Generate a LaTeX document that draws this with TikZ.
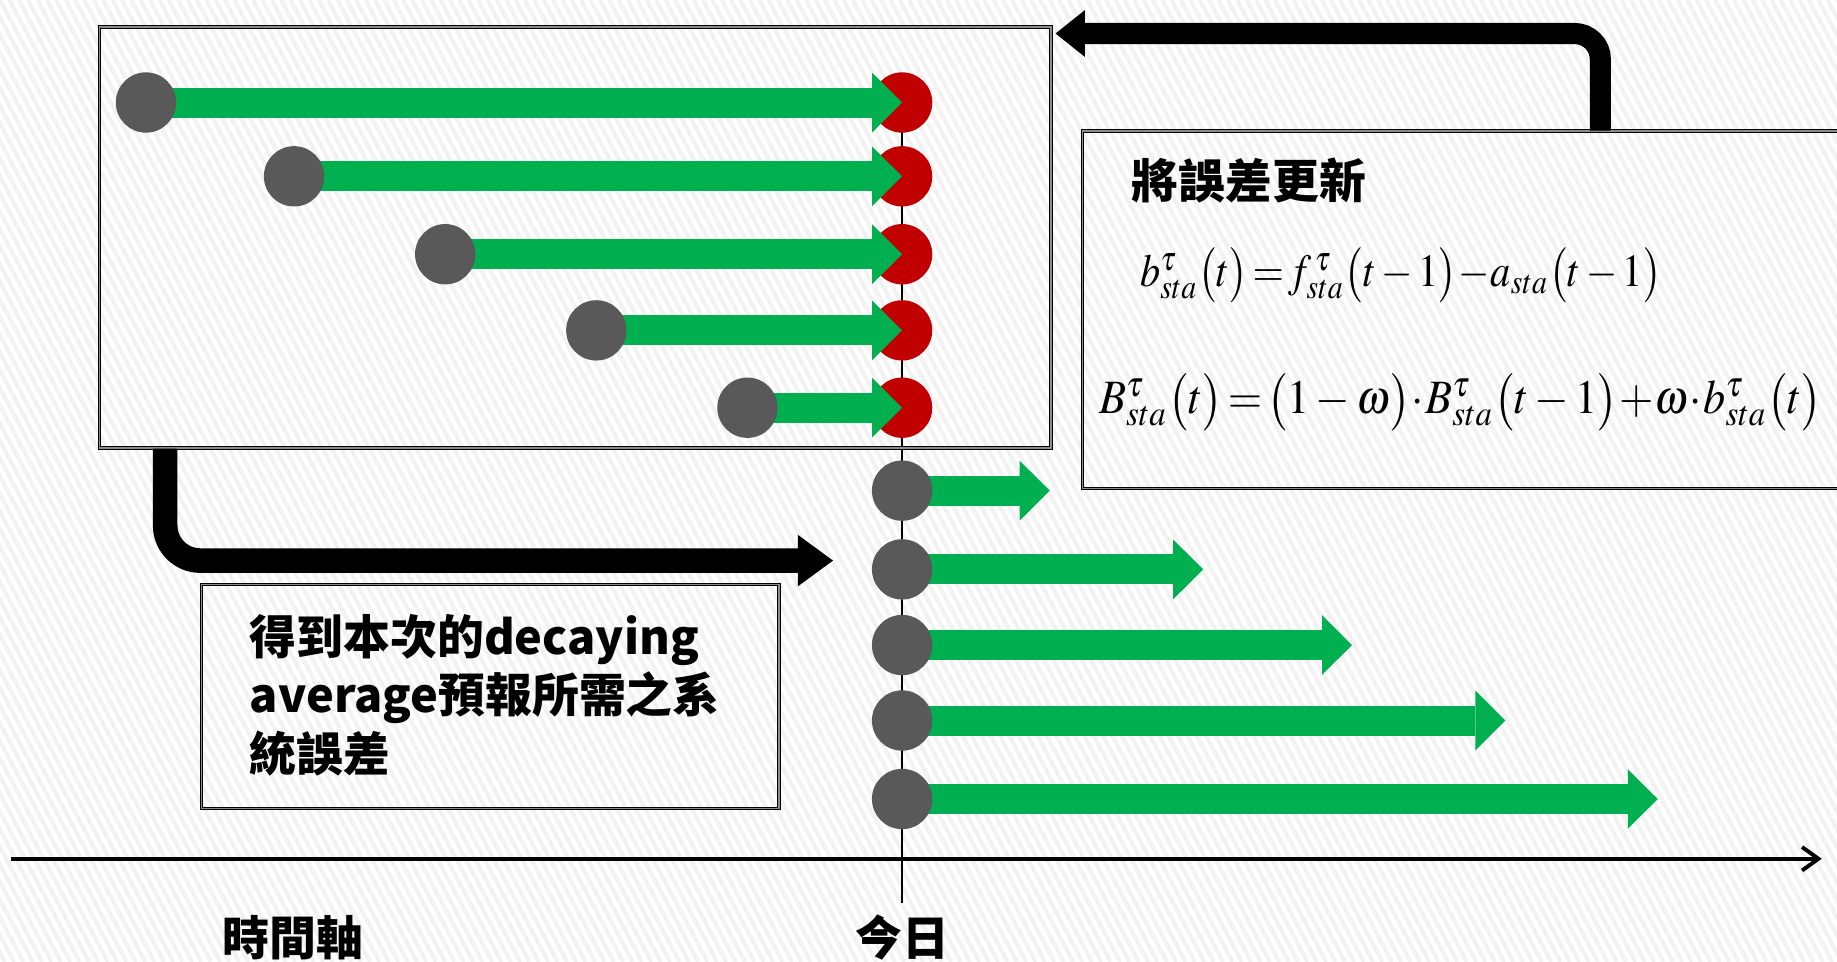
\documentclass[tikz,border=0pt]{standalone}
\usepackage{graphicx}
\usepackage{mathptmx}
\usepackage[no-math]{fontspec}
\newfontfamily\cjk{Noto Sans CJK TC}
\usetikzlibrary{arrows.meta}
\definecolor{grn}{HTML}{00B050}
\definecolor{rd}{HTML}{C00000}
\definecolor{gry}{HTML}{595959}
\pgfdeclarelayer{back}
\pgfdeclarelayer{redl}
\pgfdeclarelayer{greenl}
\pgfsetlayers{back,redl,greenl,main}
\begin{document}
\begin{tikzpicture}[x=1pt,y=-1pt,
  stripe/.style={draw=black!5,line width=3.5pt},
  dbox/.style={draw=black,line width=0.9pt,double=black!45,double distance=1.3pt,inner sep=0pt},
  dot/.style={circle,inner sep=0pt,minimum size=51.5pt},
  gdot/.style={dot,fill=gry},
  rdot/.style={dot,fill=rd},
  garrow/.style={draw=grn,line width=25.6pt,-{Triangle[width=51pt,length=25.6pt,line width=0pt]}},
  cjkt/.style={font=\cjk\bfseries\fontsize{40}{50}\selectfont,inner sep=0pt},
]
\useasboundingbox (0,0) rectangle (1568,821);
\clip (0,0) rectangle (1568,821);
% background stripes
\begin{pgfonlayer}{back}
\begin{scope}
\clip (0,0) rectangle (1568,821);
\foreach \i in {-440,-432,...,1568} \draw[stripe] (\i,0) -- ++(436,821);
\end{scope}
\end{pgfonlayer}
% red end circles
\begin{pgfonlayer}{redl}
\foreach \n/\y in {1/87.5,2/150.5,3/217,4/282,5/348} \node[rdot] (r\n) at (770,\y) {};
\end{pgfonlayer}
% gray start circles (past forecasts)
\foreach \n/\x/\y in {1/124.6/87.5,2/251/150.5,3/380/217,4/509/282,5/638/348}
  \node[gdot] (g\n) at (\x,\y) {};
% gray circles today
\foreach \n/\y/\tx in {6/418.8/896,7/486/1027,8/550.6/1154,9/615/1285,10/682/1415} {
  \node[gdot] (g\n) at (770,\y) {};
  \coordinate (e\n) at (\tx,\y);
}
% green arrows
\begin{pgfonlayer}{greenl}
\foreach \n in {1,...,5} \draw[garrow] (g\n.center) -- (r\n.center);
\foreach \n in {6,...,10} \draw[garrow] (g\n.center) -- (e\n);
\end{pgfonlayer}
% time axis and today line
\coordinate (tb) at (770,771);
\coordinate (ax0) at (9,733);
\coordinate (ax1) at (1555,733);
\begin{pgfonlayer}{back}
\draw[line width=1.5pt] (r1.center) -- (tb);
\draw[line width=3.3pt,-{Straight Barb[length=14pt,width=20pt]}] (ax0) -- (ax1);
\end{pgfonlayer}
% boxes
\node[dbox,minimum width=812pt,minimum height=359.5pt] (box1) at (491,202.75) {};
\node[dbox,minimum width=680pt,minimum height=305pt] (eqbox) at (1264,264.5) {};
\node[dbox,minimum width=493pt,minimum height=191pt] (box3) at (418.5,594.5) {};
% bent arrows
\coordinate (ux) at (1366,0);
\coordinate (ue) at (901,28.6);
\draw[line width=18pt,rounded corners=22pt,-{Triangle[width=40pt,length=25pt,line width=0pt]}] (eqbox.north -| ux) |- (ue);
\coordinate (dx) at (141,0);
\coordinate (de) at (711,478.5);
\draw[line width=21pt,rounded corners=30pt,-{Triangle[width=44pt,length=30pt,line width=0pt]}] (box1.south -| dx) |- (de);
% texts
\node[cjkt,anchor=west] (title) at (966,154) {將誤差更新};
\node[anchor=west,inner sep=0pt] (eq1) at (973,235)
  {\resizebox*{445pt}{47pt}{$b_{sta}^{\tau}\bigl(t\bigr)\!=\!f_{sta}^{\,\tau}\bigl(t-1\bigr)\!-\!a_{sta}\bigl(t-1\bigr)$}};
\node[anchor=west,inner sep=0pt] (eq2) at (938,343)
  {\resizebox*{617pt}{49pt}{$B_{sta}^{\tau}\bigl(t\bigr)\!=\!\bigl(1-\omega\bigr)\!\cdot\! B_{sta}^{\tau}\bigl(t-1\bigr)\!+\!\omega\!\cdot\! b_{sta}^{\tau}\bigl(t\bigr)$}};
\node[cjkt,anchor=north west,align=left] (note) at (213,524) {得到本次的decaying\\average預報所需之系\\統誤差};
\node[cjkt] (tlab) at (250,800) {時間軸};
\node[cjkt] (dlab) at (770,800) {今日};
\end{tikzpicture}
\end{document}
